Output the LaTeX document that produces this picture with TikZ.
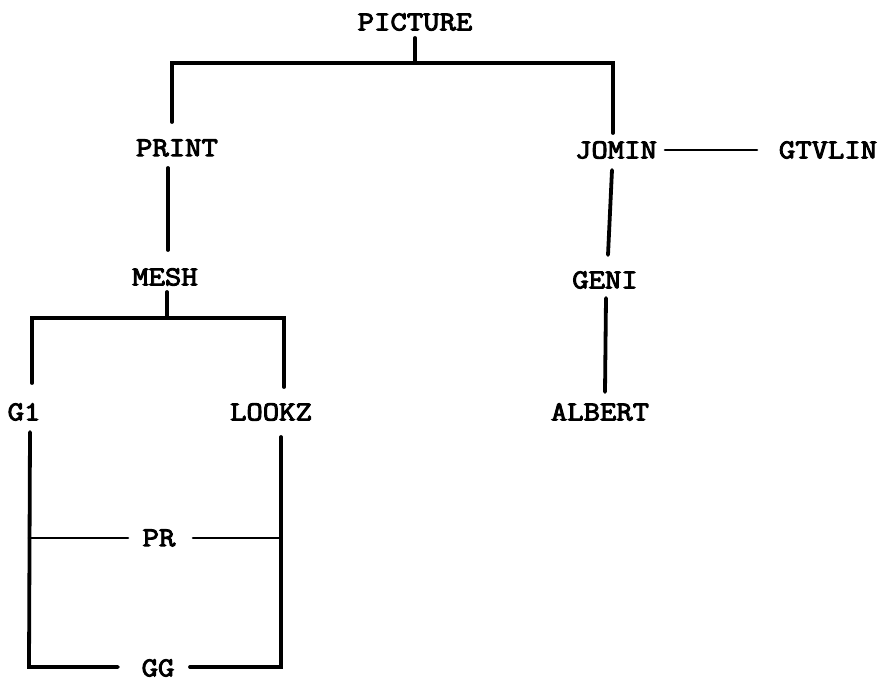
\documentclass[tikz,border=0pt]{standalone}
\usepackage{fontspec}
\newfontfamily\twfont[FakeStretch=1.16,FakeBold=3.5]{Latin Modern Mono}
\begin{document}
\begin{tikzpicture}[x=1bp,y=-1bp,
  lbl/.style={inner sep=0pt,font=\twfont\fontsize{27.5}{27.5}\selectfont},
  trunk/.style={line width=3.8bp,line cap=round,line join=miter},
  twig/.style={line width=2.6bp,line cap=round}]
\useasboundingbox[fill=white] (0,0) rectangle (884,681);
% nodes
\node[lbl] (picture) at (415,22) {PICTURE};
\node[lbl] (print)   at (177,148) {PRINT};
\node[lbl] (jomin)   at (616,150) {JOMIN};
\node[lbl] (gtvlin)  at (828,150) {GTVLIN};
\node[lbl] (mesh)    at (165,277) {MESH};
\node[lbl] (geni)    at (605,280) {GENI};
\node[lbl] (g1)      at (24,412) {G1};
\node[lbl] (lookz)   at (271,412) {LOOKZ};
\node[lbl] (albert)  at (600,412) {ALBERT};
\node[lbl] (pr)      at (159,538) {PR};
\node[lbl] (gg)      at (158,668) {GG};
% junction / free-end coordinates
\coordinate (p0) at (415,38);
\coordinate (pj) at (415,63);
\coordinate (pl) at (172,63);
\coordinate (plb) at (172,122);
\coordinate (prr) at (613,63);
\coordinate (prb) at (613,133);
\coordinate (pt0) at (168,168);
\coordinate (pt1) at (168,250);
\coordinate (m0) at (167,292);
\coordinate (mj) at (167,318);
\coordinate (ml) at (32,318);
\coordinate (mlb) at (32,383);
\coordinate (mr) at (284,318);
\coordinate (mrb) at (284,387);
\coordinate (j0) at (612,170);
\coordinate (j1) at (608,255);
\coordinate (ge0) at (606,298);
\coordinate (ge1) at (605,392);
\coordinate (gl0) at (30,432);
\coordinate (glb) at (29,667);
\coordinate (lk0) at (281,437);
\coordinate (lkb) at (281,667);
\coordinate (prl) at (29,538);
\coordinate (prrr) at (281,538);
\coordinate (ggl) at (118,667);
\coordinate (ggr) at (190,667);
\coordinate (prl2) at (128,538);
\coordinate (prr2) at (193,538);
\coordinate (jr) at (665,150);
\coordinate (gtl) at (757,150);
% tree connectors
\draw[trunk] (p0) -- (pj);
\draw[trunk] (plb) -- (pl) -- (prr) -- (prb);
\draw[trunk] (pt0) -- (pt1);
\draw[trunk] (m0) -- (mj);
\draw[trunk] (mlb) -- (ml) -- (mr) -- (mrb);
\draw[trunk] (j0) -- (j1);
\draw[trunk] (ge0) -- (ge1);
\draw[trunk] (gl0) -- (glb) -- (ggl);
\draw[trunk] (lk0) -- (lkb) -- (ggr);
% side connectors
\draw[twig] (prl) -- (prl2);
\draw[twig] (prr2) -- (prrr);
\draw[twig] (jr) -- (gtl);
\end{tikzpicture}
\end{document}
